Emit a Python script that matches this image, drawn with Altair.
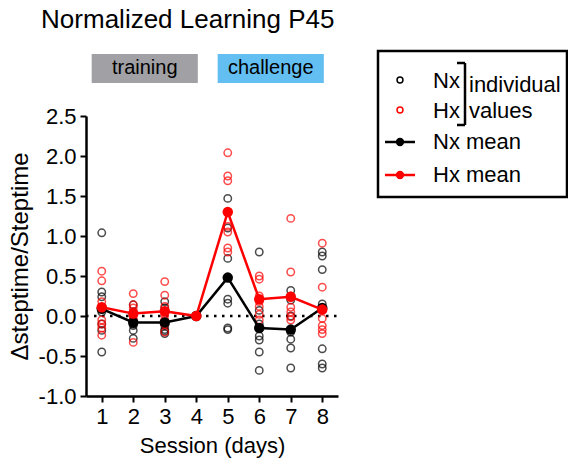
import altair as alt
import pandas as pd

FONT = "Liberation Sans"

# ---- data ----
sessions = [1, 2, 3, 4, 5, 6, 7, 8]
nx_points = [
    [1.04, 0.30, 0.24, 0.05, -0.10, -0.18, -0.45],
    [0.14, 0.05, -0.05, -0.10, -0.12, -0.18, -0.28],
    [0.18, 0.10, -0.08, -0.12, -0.17, -0.19, -0.22],
    [0.0, 0.0, 0.0, 0.0, 0.0, 0.0, 0.0],
    [1.47, 1.10, 0.72, 0.21, 0.16, -0.15, -0.17],
    [0.80, 0.07, -0.10, -0.25, -0.30, -0.45, -0.68],
    [0.32, 0.20, 0.0, -0.20, -0.29, -0.40, -0.65],
    [0.80, 0.75, 0.58, 0.15, -0.41, -0.60, -0.65],
]
hx_points = [
    [0.56, 0.44, 0.18, -0.05, -0.10, -0.15, -0.24],
    [0.28, 0.14, 0.10, 0.05, 0.0, -0.05, -0.33],
    [0.43, 0.26, 0.12, 0.02, -0.05, -0.10, -0.20],
    [0.0, 0.0, 0.0, 0.0, 0.0, 0.0, 0.0],
    [2.04, 1.75, 1.69, 1.12, 1.05, 0.85, 0.80],
    [0.50, 0.46, 0.25, 0.18, 0.12, 0.02, -0.05],
    [1.22, 0.55, 0.25, 0.11, 0.05, -0.01, -0.05],
    [0.91, 0.36, 0.10, -0.03, -0.12, -0.17, -0.22],
]
nx_mean = [0.09, -0.08, -0.08, 0.0, 0.48, -0.15, -0.17, 0.10]
hx_mean = [0.11, 0.03, 0.06, 0.0, 1.30, 0.21, 0.24, 0.08]

phases = ["training", "challenge"]
phase_start = [0.68, 4.68]
phase_end = [4.05, 8.05]
phase_colors = ["#a1a0a5", "#63bef2"]

y_ticks = [-1.0, -0.5, 0.0, 0.5, 1.0, 1.5, 2.0, 2.5]
zero_level = [0.0]

# ---- tables ----
nx_df = pd.DataFrame([{"session": s, "value": v} for s, vals in zip(sessions, nx_points) for v in vals])
hx_df = pd.DataFrame([{"session": s, "value": v} for s, vals in zip(sessions, hx_points) for v in vals])
nx_mean_df = pd.DataFrame({"session": sessions, "value": nx_mean})
hx_mean_df = pd.DataFrame({"session": sessions, "value": hx_mean})
zero_df = pd.DataFrame({"value": zero_level})
phase_df = pd.DataFrame({"phase": phases, "start": phase_start, "end": phase_end})
phase_df["mid"] = (phase_df["start"] + phase_df["end"]) / 2
single = pd.DataFrame({"k": [0]})

W, H = 252, 280

xs = alt.Scale(domain=[0.5, 8.5], nice=False, zero=False)
ys = alt.Scale(domain=[-1.0, 2.5], nice=False, zero=False)

x_axis = alt.Axis(values=sessions, format="d", title="Session (days)", titlePadding=8, labelPadding=4,
                  tickCount=8, labelOverlap=False)
y_axis = alt.Axis(values=y_ticks, title="\u0394steptime/Steptime", titlePadding=6, labelPadding=4,
                  tickCount=8, labelOverlap=False,
                  labelExpr="datum.value < 0 ? '-' + format(-datum.value, '.1f') : format(datum.value, '.1f')")
X = alt.X("session:Q", scale=xs, axis=x_axis)
Y = alt.Y("value:Q", scale=ys, axis=y_axis)

zero = alt.Chart(zero_df).mark_rule(strokeDash=[2.5, 5.5], strokeWidth=2.5, color="black").encode(
    y=Y, x=alt.value(0), x2=alt.value(W))

nx_pts = alt.Chart(nx_df).mark_point(shape="circle", filled=False, size=55, strokeWidth=1.5, color="black").encode(x=X, y=Y)
hx_pts = alt.Chart(hx_df).mark_point(shape="circle", filled=False, size=55, strokeWidth=1.5, color="red").encode(x=X, y=Y)

nx_line = alt.Chart(nx_mean_df).mark_line(strokeWidth=2.5, color="black").encode(x=X, y=Y)
nx_dot = alt.Chart(nx_mean_df).mark_point(shape="circle", filled=True, size=110, opacity=1, color="black").encode(x=X, y=Y)
hx_line = alt.Chart(hx_mean_df).mark_line(strokeWidth=2.5, color="red").encode(x=X, y=Y)
hx_dot = alt.Chart(hx_mean_df).mark_point(shape="circle", filled=True, size=110, opacity=1, color="red").encode(x=X, y=Y)

boxes = alt.Chart(phase_df).mark_rect(clip=False).encode(
    x=alt.X("start:Q", scale=xs, axis=x_axis), x2="end:Q",
    y=alt.value(-62), y2=alt.value(-33),
    color=alt.Color("phase:N", scale=alt.Scale(domain=phases, range=phase_colors), legend=None))
box_text = alt.Chart(phase_df).mark_text(fontSize=20, font=FONT, baseline="middle", align="center", color="black", clip=False).encode(
    x=alt.X("mid:Q", scale=xs, axis=x_axis), y=alt.value(-48), text="phase:N")


def txt(text, x, y, size=22):
    return alt.Chart(single).mark_text(text=text, align="left", baseline="middle", fontSize=size, font=FONT,
                                       color="black", clip=False).encode(x=alt.value(x), y=alt.value(y))


def rule(x, x2, y, y2, color="black", width=2.5):
    return alt.Chart(single).mark_rule(strokeWidth=width, color=color, clip=False).encode(
        x=alt.value(x), x2=alt.value(x2), y=alt.value(y), y2=alt.value(y2))


def dot(x, y, color, filled, size):
    return alt.Chart(single).mark_point(shape="circle", filled=filled, size=size, strokeWidth=1.5, opacity=1,
                                        color=color, clip=False).encode(x=alt.value(x), y=alt.value(y))


legend_box = alt.Chart(single).mark_rect(filled=False, stroke="black", strokeWidth=2.5, clip=False).encode(
    x=alt.value(292), x2=alt.value(481), y=alt.value(-65), y2=alt.value(81))

legend = [
    legend_box,
    dot(314, -36, "black", False, 35),
    dot(314, -6, "red", False, 35),
    txt("Nx", 347, -35),
    txt("Hx", 347, -5),
    rule(379, 379, -53, 9),
    rule(371, 379, -53, -53),
    rule(371, 379, 9, 9),
    txt("individual", 383, -31),
    txt("values", 383, -5),
    rule(299, 329, 26, 26, "black"),
    dot(314, 26, "black", True, 70),
    txt("Nx mean", 347, 26),
    rule(299, 329, 59, 59, "red"),
    dot(314, 59, "red", True, 70),
    txt("Hx mean", 347, 59),
]

chart = alt.layer(zero, nx_pts, hx_pts, nx_line, nx_dot, hx_line, hx_dot, boxes, box_text, *legend).properties(
    width=W, height=H,
    title=alt.TitleParams("Normalized Learning P45", fontSize=26, font=FONT, fontWeight="normal",
                          anchor="start", dx=33, offset=17, color="black"),
    autosize=alt.AutoSizeParams(type="none"),
    padding={"left": 86, "top": 116, "right": 230, "bottom": 74},
).configure_axis(
    grid=False, domainColor="black", domainWidth=2.5, tickColor="black", tickWidth=2, tickSize=6,
    labelFont=FONT, labelFontSize=22, labelColor="black",
    titleFont=FONT, titleFontSize=22, titleColor="black", titleFontWeight="normal",
).configure_axisY(titleFontSize=24).configure_view(stroke=None)

chart.save("out.html", embed_options={"renderer": "svg", "actions": False})
